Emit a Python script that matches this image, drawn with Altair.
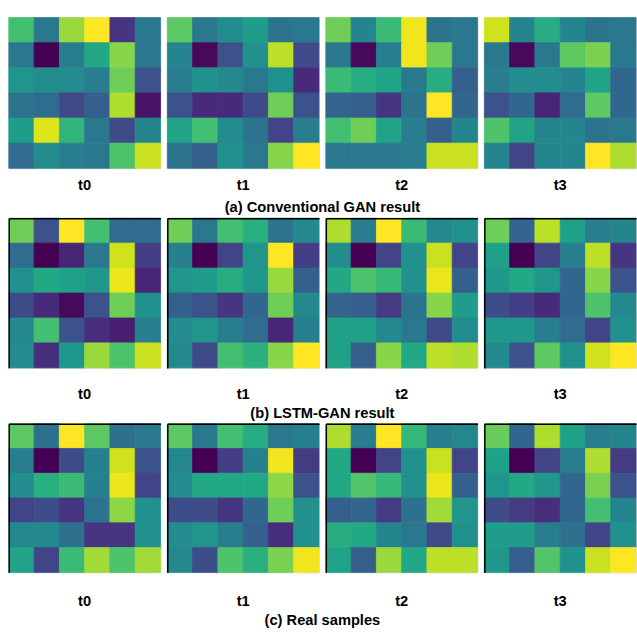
import altair as alt
import pandas as pd

FONT = "Liberation Sans"

STEPS = ["t0", "t1", "t2", "t3"]
CAPTIONS = ["(a) Conventional GAN result", "(b) LSTM-GAN result", "(c) Real samples"]

# (a) Conventional GAN
A_T0 = [[0.70, 0.40, 0.85, 1.00, 0.15, 0.40],
        [0.40, 0.00, 0.42, 0.60, 0.82, 0.40],
        [0.52, 0.48, 0.48, 0.42, 0.78, 0.25],
        [0.38, 0.35, 0.22, 0.30, 0.88, 0.05],
        [0.55, 0.95, 0.65, 0.40, 0.22, 0.45],
        [0.35, 0.48, 0.42, 0.40, 0.72, 0.92]]
A_T1 = [[0.75, 0.40, 0.48, 0.55, 0.38, 0.40],
        [0.45, 0.02, 0.25, 0.50, 0.90, 0.22],
        [0.42, 0.50, 0.47, 0.40, 0.50, 0.12],
        [0.25, 0.12, 0.12, 0.22, 0.78, 0.25],
        [0.58, 0.70, 0.48, 0.38, 0.20, 0.42],
        [0.38, 0.30, 0.50, 0.40, 0.82, 1.00]]
A_T2 = [[0.78, 0.45, 0.68, 0.98, 0.38, 0.40],
        [0.40, 0.02, 0.42, 0.98, 0.78, 0.40],
        [0.68, 0.62, 0.58, 0.40, 0.62, 0.30],
        [0.32, 0.30, 0.15, 0.38, 1.00, 0.32],
        [0.70, 0.78, 0.58, 0.42, 0.30, 0.45],
        [0.40, 0.40, 0.40, 0.42, 0.92, 0.92]]
A_T3 = [[0.93, 0.45, 0.62, 0.45, 0.38, 0.40],
        [0.40, 0.02, 0.40, 0.75, 0.80, 0.40],
        [0.42, 0.48, 0.48, 0.45, 0.58, 0.33],
        [0.25, 0.33, 0.10, 0.35, 0.75, 0.33],
        [0.72, 0.58, 0.45, 0.45, 0.38, 0.40],
        [0.45, 0.20, 0.45, 0.45, 1.00, 0.88]]

# (b) LSTM-GAN
B_T0 = [[0.78, 0.25, 1.00, 0.70, 0.35, 0.35],
        [0.35, 0.00, 0.10, 0.40, 0.93, 0.18],
        [0.50, 0.60, 0.57, 0.53, 0.97, 0.10],
        [0.22, 0.12, 0.02, 0.25, 0.78, 0.50],
        [0.47, 0.70, 0.25, 0.13, 0.08, 0.42],
        [0.48, 0.13, 0.53, 0.85, 0.72, 0.92]]
B_T1 = [[0.78, 0.40, 0.70, 0.63, 0.38, 0.47],
        [0.43, 0.00, 0.20, 0.52, 1.00, 0.18],
        [0.52, 0.55, 0.62, 0.53, 0.85, 0.30],
        [0.30, 0.25, 0.15, 0.33, 0.78, 0.47],
        [0.48, 0.52, 0.42, 0.35, 0.10, 0.43],
        [0.47, 0.22, 0.70, 0.64, 0.82, 1.00]]
B_T2 = [[0.88, 0.42, 1.00, 0.68, 0.47, 0.50],
        [0.48, 0.00, 0.20, 0.50, 0.92, 0.20],
        [0.60, 0.72, 0.67, 0.50, 0.97, 0.30],
        [0.32, 0.30, 0.17, 0.38, 0.82, 0.55],
        [0.57, 0.57, 0.47, 0.40, 0.22, 0.48],
        [0.57, 0.30, 0.82, 0.60, 0.90, 0.88]]
B_T3 = [[0.78, 0.32, 0.90, 0.57, 0.42, 0.45],
        [0.57, 0.00, 0.20, 0.42, 0.90, 0.15],
        [0.53, 0.60, 0.53, 0.33, 0.82, 0.25],
        [0.23, 0.18, 0.12, 0.33, 0.72, 0.47],
        [0.53, 0.53, 0.42, 0.35, 0.20, 0.50],
        [0.47, 0.25, 0.75, 0.50, 0.93, 1.00]]

# (c) Real samples
C_T0 = [[0.75, 0.37, 1.00, 0.75, 0.37, 0.40],
        [0.42, 0.00, 0.23, 0.43, 0.93, 0.25],
        [0.48, 0.63, 0.68, 0.43, 0.97, 0.20],
        [0.20, 0.23, 0.15, 0.38, 0.83, 0.50],
        [0.47, 0.47, 0.37, 0.15, 0.15, 0.50],
        [0.58, 0.20, 0.68, 0.86, 0.72, 0.86]]
C_T1 = [[0.75, 0.40, 0.70, 0.62, 0.40, 0.43],
        [0.46, 0.00, 0.18, 0.43, 0.98, 0.17],
        [0.48, 0.60, 0.60, 0.60, 0.83, 0.25],
        [0.23, 0.23, 0.15, 0.33, 0.78, 0.50],
        [0.48, 0.52, 0.42, 0.30, 0.13, 0.50],
        [0.47, 0.23, 0.72, 0.63, 0.80, 0.98]]
C_T2 = [[0.88, 0.42, 1.00, 0.67, 0.43, 0.46],
        [0.60, 0.00, 0.20, 0.50, 0.92, 0.20],
        [0.60, 0.73, 0.67, 0.50, 0.97, 0.30],
        [0.30, 0.32, 0.17, 0.37, 0.86, 0.52],
        [0.62, 0.60, 0.45, 0.40, 0.22, 0.50],
        [0.58, 0.30, 0.85, 0.60, 0.90, 0.90]]
C_T3 = [[0.77, 0.33, 0.88, 0.57, 0.42, 0.45],
        [0.57, 0.00, 0.20, 0.42, 0.88, 0.17],
        [0.52, 0.60, 0.53, 0.33, 0.80, 0.25],
        [0.23, 0.17, 0.13, 0.33, 0.70, 0.45],
        [0.55, 0.55, 0.42, 0.37, 0.20, 0.50],
        [0.53, 0.30, 0.73, 0.50, 0.92, 1.00]]

GROUPS = [[A_T0, A_T1, A_T2, A_T3],
          [B_T0, B_T1, B_T2, B_T3],
          [C_T0, C_T1, C_T2, C_T3]]

PANEL_W = 155
PANEL_H = [154, 153, 152]
LABEL_OFFSET = [10, 19, 22]
CAPTION_OFFSET = [7, 4, 4]


def to_frame(grid):
    recs = []
    for r, row in enumerate(grid):
        for c, v in enumerate(row):
            recs.append({"row": r, "col": c, "v": v})
    return pd.DataFrame(recs)


def panel(grid, label, gi):
    framed = gi > 0
    if framed:
        xax = alt.Axis(orient="top", labels=False, ticks=False, title=None,
                       domainColor="black", domainWidth=1.5)
        yax = alt.Axis(orient="left", labels=False, ticks=False, title=None,
                       domainColor="black", domainWidth=1.5)
    else:
        xax = None
        yax = None
    cscale = alt.Scale(scheme="viridis", domain=[0, 1])
    return alt.Chart(to_frame(grid)).mark_rect(strokeWidth=0.8).encode(
        x=alt.X("col:O", axis=xax),
        y=alt.Y("row:O", axis=yax),
        color=alt.Color("v:Q", scale=cscale, legend=None),
        stroke=alt.Stroke("v:Q", scale=cscale, legend=None),
    ).properties(
        width=PANEL_W, height=PANEL_H[gi],
        title=alt.TitleParams(label, orient="bottom", font=FONT, fontSize=15,
                              fontWeight="bold", color="black",
                              offset=LABEL_OFFSET[gi]),
    )


rows = []
for gi, grids in enumerate(GROUPS):
    panels = [panel(g, STEPS[i], gi) for i, g in enumerate(grids)]
    rows.append(alt.hconcat(*panels, spacing=5).properties(
        title=alt.TitleParams(CAPTIONS[gi], orient="bottom", anchor="middle",
                              font=FONT, fontSize=15, fontWeight="bold",
                              color="black", offset=CAPTION_OFFSET[gi])))

chart = alt.vconcat(*rows, spacing=2).properties(
    padding={"left": 8, "top": 10, "right": 0, "bottom": 0}
).configure_view(stroke=None).configure(background="white")

chart.save("out.html", embed_options={"renderer": "svg", "actions": False})
